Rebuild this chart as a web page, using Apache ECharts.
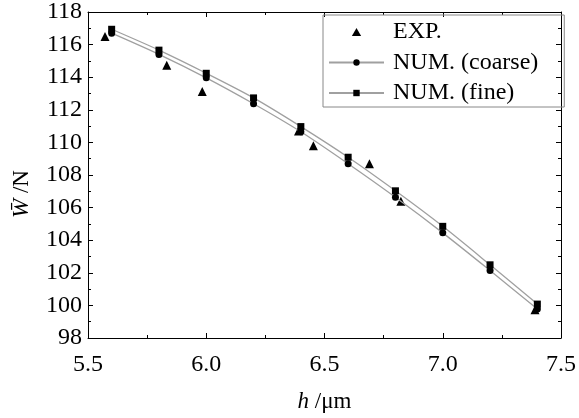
<!DOCTYPE html>
<html>
<head>
<meta charset="utf-8">
<style>
  html, body { margin: 0; padding: 0; background: #fff; }
  #chart { width: 579px; height: 418px; }
</style>
<script src="https://cdn.jsdelivr.net/npm/echarts@6/dist/echarts.min.js"></script>
</head>
<body>
<div id="chart"></div>
<script>
// Load W versus film thickness h
const hNum = [5.6, 5.8, 6.0, 6.2, 6.4, 6.6, 6.8, 7.0, 7.2, 7.4];
const wFine = [116.94, 115.66, 114.24, 112.73, 110.97, 109.09, 107.03, 104.85, 102.49, 100.08];
const wCoarse = [116.7, 115.4, 113.96, 112.37, 110.65, 108.69, 106.63, 104.45, 102.14, 99.78];
const hExp = [5.572, 5.833, 5.983, 6.39, 6.453, 6.69, 6.823, 7.39];
const wExp = [116.5, 114.74, 113.12, 110.7, 109.79, 108.69, 106.39, 99.74];

const FONT = "'Liberation Serif', 'Times New Roman', serif";

const pairs = (xs, ys) => xs.map((x, i) => [x, ys[i]]);

const tickCommon = {
  axisLine: { show: true, lineStyle: { color: '#000', width: 1 } },
  axisTick: { show: true, inside: true, length: 5, lineStyle: { color: '#000', width: 1 } },
  minorTick: { show: true, splitNumber: 2, length: 3, lineStyle: { color: '#000', width: 1 } },
  splitLine: { show: false },
  minorSplitLine: { show: false }
};

const labelStyle = { color: '#000', fontSize: 24, fontFamily: FONT };
const nameStyle = { color: '#000', fontSize: 23, fontFamily: FONT };
const nameRich = { i: Object.assign({}, nameStyle, { fontStyle: 'italic' }) };

// upright triangle with fixed proportions for the legend entry
const TRIANGLE_ICON = 'path://M5,0L10,8.66L0,8.66Z';

const chart = echarts.init(document.getElementById('chart'), null, { renderer: 'canvas' });

chart.setOption({
  backgroundColor: '#fff',
  animation: false,
  grid: { left: 88, right: 18, top: 10, bottom: 75 },
  // vertical axis title, reading bottom to top
  graphic: [{
    type: 'text',
    x: 22,
    y: 194,
    rotation: Math.PI / 2,
    style: Object.assign({
      text: '{i|W\u0304} /N',
      align: 'center',
      verticalAlign: 'middle',
      fill: '#000',
      rich: nameRich
    }, { fontSize: 23, fontFamily: FONT })
  }],
  legend: {
    orient: 'vertical',
    left: 323,
    top: 15,
    padding: [5, 26, 2, 5],
    itemWidth: 55,
    itemHeight: 8,
    itemGap: 6.5,
    symbolKeepAspect: true,
    borderColor: '#888',
    borderWidth: 1,
    textStyle: { color: '#000', fontSize: 24, lineHeight: 24, fontFamily: FONT, padding: [0, 0, 0, 4] },
    data: [
      { name: 'EXP.', icon: TRIANGLE_ICON },
      'NUM. (coarse)',
      'NUM. (fine)'
    ]
  },
  xAxis: [
    Object.assign({
      type: 'value', min: 5.5, max: 7.5, interval: 0.5, position: 'bottom',
      name: '{i|h} /μm', nameLocation: 'middle', nameGap: 52,
      nameTextStyle: Object.assign({}, nameStyle, { rich: nameRich }),
      axisLabel: Object.assign({ margin: 15, formatter: v => v.toFixed(1) }, labelStyle)
    }, tickCommon),
    Object.assign({
      type: 'value', min: 5.5, max: 7.5, interval: 0.5, position: 'top',
      axisLabel: { show: false }
    }, tickCommon)
  ],
  yAxis: [
    Object.assign({
      type: 'value', min: 98, max: 118, interval: 2, position: 'left',
      axisLabel: Object.assign({ margin: 6 }, labelStyle)
    }, tickCommon),
    Object.assign({
      type: 'value', min: 98, max: 118, interval: 2, position: 'right',
      axisLabel: { show: false }
    }, tickCommon)
  ],
  series: [
    {
      name: 'NUM. (fine)', type: 'line', xAxisIndex: 0, yAxisIndex: 0,
      data: pairs(hNum, wFine), smooth: 0.3,
      symbol: 'rect', symbolSize: 7,
      itemStyle: { color: '#000', opacity: 1 },
      lineStyle: { color: '#a0a0a0', width: 1.3 }
    },
    {
      name: 'NUM. (coarse)', type: 'line', xAxisIndex: 0, yAxisIndex: 0,
      data: pairs(hNum, wCoarse), smooth: 0.3,
      symbol: 'circle', symbolSize: 7,
      itemStyle: { color: '#000', opacity: 1 },
      lineStyle: { color: '#a0a0a0', width: 1.3 }
    },
    {
      name: 'EXP.', type: 'scatter', xAxisIndex: 0, yAxisIndex: 0,
      data: pairs(hExp, wExp),
      symbol: 'triangle', symbolSize: 9,
      itemStyle: { color: '#000', opacity: 1 }
    }
  ]
});
</script>
</body>
</html>
